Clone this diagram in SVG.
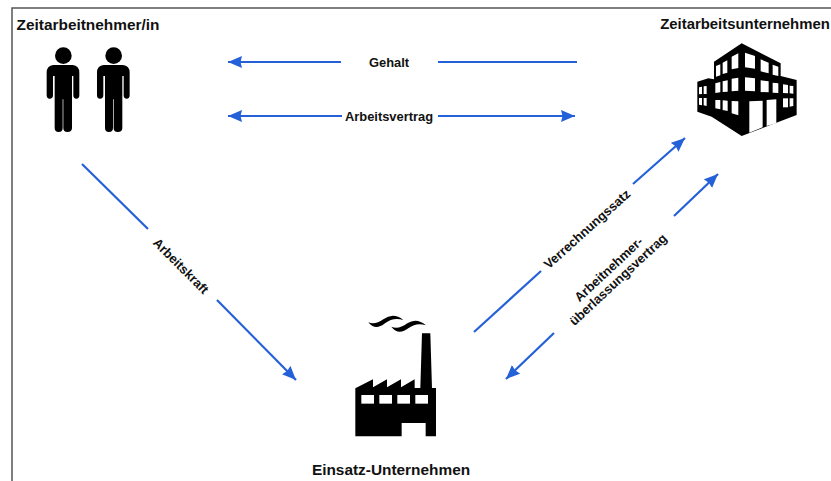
<svg xmlns="http://www.w3.org/2000/svg" width="831" height="481" viewBox="0 0 831 481">
<style>
text{font-family:"Liberation Sans",Arial,sans-serif;font-weight:700;fill:#111;text-anchor:middle}
.t{font-size:15.4px}.s{font-size:12.9px}
.c{fill:none;stroke:#2460d8;stroke-width:2.2}
.k{fill:#000}.w{fill:#fff}
</style>
<defs>
<marker id="a" viewBox="0 0 14 12" refX="14" refY="6" markerUnits="userSpaceOnUse" markerWidth="14" markerHeight="12" orient="auto-start-reverse"><path d="M0 0L14 6L0 12L1.500 6Z" fill="#2460d8"/></marker>
<g id="p">
<circle cx="190" cy="167" r="25" class="k"/>
<path class="k" d="M160 195H218Q238 197 238 218V286Q238 296 229 296Q220 296 220 286V228H216V384Q216 396 202 396Q190 396 190 384V298H188V384Q188 396 176 396Q164 396 164 384V228H159V286Q159 296 149 296Q140 296 140 286V218Q140 197 160 195Z"/>
</g>
</defs>
<rect x="12" y="8" width="830" height="490" fill="#fff" stroke="#555" stroke-width="1.5"/>
<g id="connectors">
<path class="c" d="M341 62H228" marker-end="url(#a)"/>
<path class="c" d="M438 62H577"/>
<path class="c" d="M342 116H228" marker-end="url(#a)"/>
<path class="c" d="M438 116H575" marker-end="url(#a)"/>
<path class="c" d="M82 164L148 229"/>
<path class="c" d="M217 300L296 380" marker-end="url(#a)"/>
<path class="c" d="M474 332L541 271"/>
<path class="c" d="M633 184L685 138" marker-end="url(#a)"/>
<path class="c" d="M674 216L718 174" marker-end="url(#a)"/>
<path class="c" d="M554 333L506 379" marker-end="url(#a)"/>
</g>
<g id="label-gehalt"><text class="s" x="389" y="67">Gehalt</text></g>
<g id="label-arbeitsvertrag"><text class="s" x="389" y="121">Arbeitsvertrag</text></g>
<g id="label-arbeitskraft"><text class="s" transform="translate(181 266) rotate(45)" y="4.500">Arbeitskraft</text></g>
<g id="label-verrechnungssatz"><text class="s" transform="translate(587 229) rotate(-42)" y="4.500">Verrechnungssatz</text></g>
<g id="label-ueberlassung"><text class="s" transform="translate(613 274) rotate(-43)"><tspan x="0" y="-2">Arbeitnehmer-</tspan><tspan x="0" y="12">überlassungsvertrag</tspan></text></g>
<g id="node-zeitarbeitnehmer">
<text class="t" x="88" y="30">Zeitarbeitnehmer/in</text>
<g transform="scale(.3333)"><use href="#p"/><use href="#p" x="151"/></g>
</g>
<g id="node-zeitarbeitsunternehmen">
<text class="t" x="745" y="29" style="font-size:14.9px">Zeitarbeitsunternehmen</text>
<g transform="translate(640 0) scale(.3333)">
<path class="k" d="M305 130L422 190V228L470 240V345L305 408L222 355L215 350L172 335V245L205 235L222 238V185Z"/>
<g class="w">
<path d="M228 198L241 193V226L228 230Z"/><path d="M248 188L262 181V218L248 222Z"/><path d="M275 170L295 160V204L275 208Z"/>
<path d="M315 158L345 168V206L315 202Z"/><path d="M362 178L386 188V220L362 214Z"/><path d="M398 194L415 200V228L398 224Z"/>
<path d="M226 250L241 246V277L226 279Z"/><path d="M248 244L263 241V275L248 276Z"/><path d="M275 236L295 233V272L275 274Z"/>
<path d="M315 232L345 235V274L315 272Z"/><path d="M362 241L386 244V277L362 276Z"/><path d="M398 248L415 250V279L398 278Z"/>
<path d="M429 253L444 255V280L429 279Z"/><path d="M449 257L460 258V281L449 280Z"/>
<path d="M177 262L186 260V282L177 283Z"/><path d="M191 259L200 258V282L191 282Z"/>
<path d="M177 294L186 294V316L177 314Z"/><path d="M191 294L200 294V318L191 316Z"/>
<path d="M226 300L241 300V328L226 325Z"/><path d="M248 301L263 302V333L248 330Z"/><path d="M275 303L295 304V346L275 340Z"/>
<path d="M429 295L444 295V322L429 322Z"/><path d="M449 295L460 295V318L449 320Z"/>
<path d="M328 304L368 302V382L328 398Z"/><path d="M380 300L409 298V370L380 378Z"/>
</g>
</g>
</g>
<g id="node-einsatz">
<text class="t" x="391" y="475">Einsatz-Unternehmen</text>
<g transform="translate(330 300) scale(.3333)">
<path class="k" d="M76 265L129 238V262L171 238V262L213 238V262L254 238V264H271L276 100H301L306 264H318V409H287V369H215V409H76Z"/>
<g class="w"><rect x="94" y="285" width="38" height="26"/><rect x="148" y="285" width="38" height="26"/><rect x="202" y="285" width="38" height="26"/><rect x="256" y="285" width="38" height="26"/></g>
<path class="k" d="M115 67Q135 76 160 58Q190 36 220 60Q190 50 165 70Q135 94 115 67Z"/>
<path class="k" d="M184 80Q205 90 232 70Q260 52 288 76Q260 66 236 84Q205 108 184 80Z"/>
</g>
</g>
</svg>
